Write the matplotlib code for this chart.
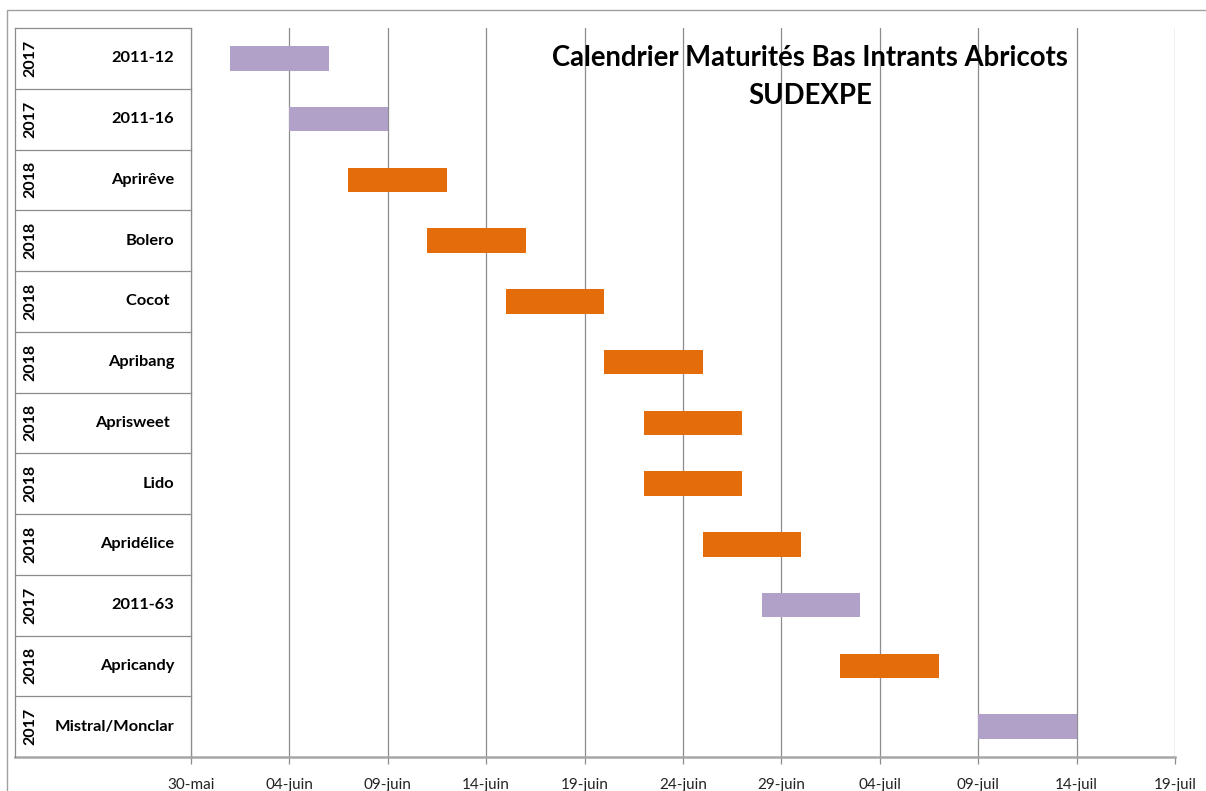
import datetime as dt
import matplotlib
matplotlib.use("Agg")
import matplotlib.pyplot as plt
import matplotlib.dates as mdates
from matplotlib.transforms import blended_transform_factory
from matplotlib.patches import Rectangle

plt.rcParams['font.family'] = ['Lato', 'DejaVu Sans']

# data
varieties = ["2011-12", "2011-16", "Aprirêve", "Bolero", "Cocot ", "Apribang",
             "Aprisweet ", "Lido", "Apridélice", "2011-63", "Apricandy", "Mistral/Monclar"]
years = ["2017", "2017", "2018", "2018", "2018", "2018",
         "2018", "2018", "2018", "2017", "2018", "2017"]
starts = ["2018-06-01", "2018-06-04", "2018-06-07", "2018-06-11", "2018-06-15", "2018-06-20",
          "2018-06-22", "2018-06-22", "2018-06-25", "2018-06-28", "2018-07-02", "2018-07-09"]
durations = [5, 5, 5, 5, 5, 5, 5, 5, 5, 5, 5, 5]
tick_labels = ["30-mai", "04-juin", "09-juin", "14-juin", "19-juin", "24-juin",
               "29-juin", "04-juil", "09-juil", "14-juil", "19-juil"]

colors = {"2017": "#b1a0c7", "2018": "#e46c0a"}
W, H = 1206, 791

fig = plt.figure(figsize=(W / 100, H / 100), dpi=100)
fig.patches.append(Rectangle((7 / W, -0.1), 1.2, 1 - 10 / H + 0.1, transform=fig.transFigure,
                             fill=False, edgecolor="#a0a0a0", linewidth=1))

x0, x1 = 191, 1175
y0, y1 = 28, 757
ax = fig.add_axes([x0 / W, 1 - y1 / H, (x1 - x0) / W, (y1 - y0) / H])

start_nums = [mdates.date2num(dt.datetime.strptime(s, "%Y-%m-%d")) for s in starts]
bar_colors = [colors[y] for y in years]
ax.barh(range(len(varieties)), durations, left=start_nums, height=0.4, color=bar_colors, zorder=3)

xmin = mdates.date2num(dt.datetime(2018, 5, 30))
ticks = [xmin + 5 * i for i in range(len(tick_labels))]
ax.set_xlim(ticks[0], ticks[-1])
ax.set_ylim(len(varieties) - 0.5, -0.5)
ax.set_xticks(ticks)
ax.set_xticklabels(tick_labels, fontsize=11, color="#222222")
ax.set_yticks([])
ax.grid(axis="x", color="#8c8c8c", linewidth=0.9, zorder=0)
ax.tick_params(axis="x", length=5, color="#8c8c8c", width=0.9, pad=10)
for side in ["top", "right", "left"]:
    ax.spines[side].set_visible(False)
ax.spines["bottom"].set_color("#a6a6a6")
ax.spines["bottom"].set_linewidth(1.8)

# category table on the left
left = (15 - x0) / (x1 - x0)
trans = blended_transform_factory(ax.transAxes, ax.transData)
for i in range(len(varieties)):
    ax.plot([left, 0], [i - 0.5, i - 0.5], transform=trans, color="#8c8c8c",
            linewidth=0.9, clip_on=False)
    ax.text((30 - x0) / (x1 - x0), i, years[i], transform=trans, rotation=90,
            ha="center", va="center", fontsize=11.5, fontweight="bold")
    ax.text((174 - x0) / (x1 - x0), i, varieties[i], transform=trans,
            ha="right", va="center", fontsize=11.8, fontweight="bold")
ax.plot([left, 0], [len(varieties) - 0.5] * 2, transform=trans, color="#a6a6a6",
        linewidth=1.8, clip_on=False)
ax.plot([left, left], [-0.5, len(varieties) - 0.5], transform=trans, color="#8c8c8c",
        linewidth=0.9, clip_on=False)
ax.plot([0, 0], [-0.5, len(varieties) - 0.5], transform=trans, color="#8c8c8c",
        linewidth=0.9, clip_on=False)

fig.text(810 / W, 1 - 77 / H, "Calendrier Maturités Bas Intrants Abricots\nSUDEXPE",
         ha="center", va="center", fontsize=19.8, fontweight="bold", linespacing=1.55)

fig.savefig("out.png", dpi=100)
